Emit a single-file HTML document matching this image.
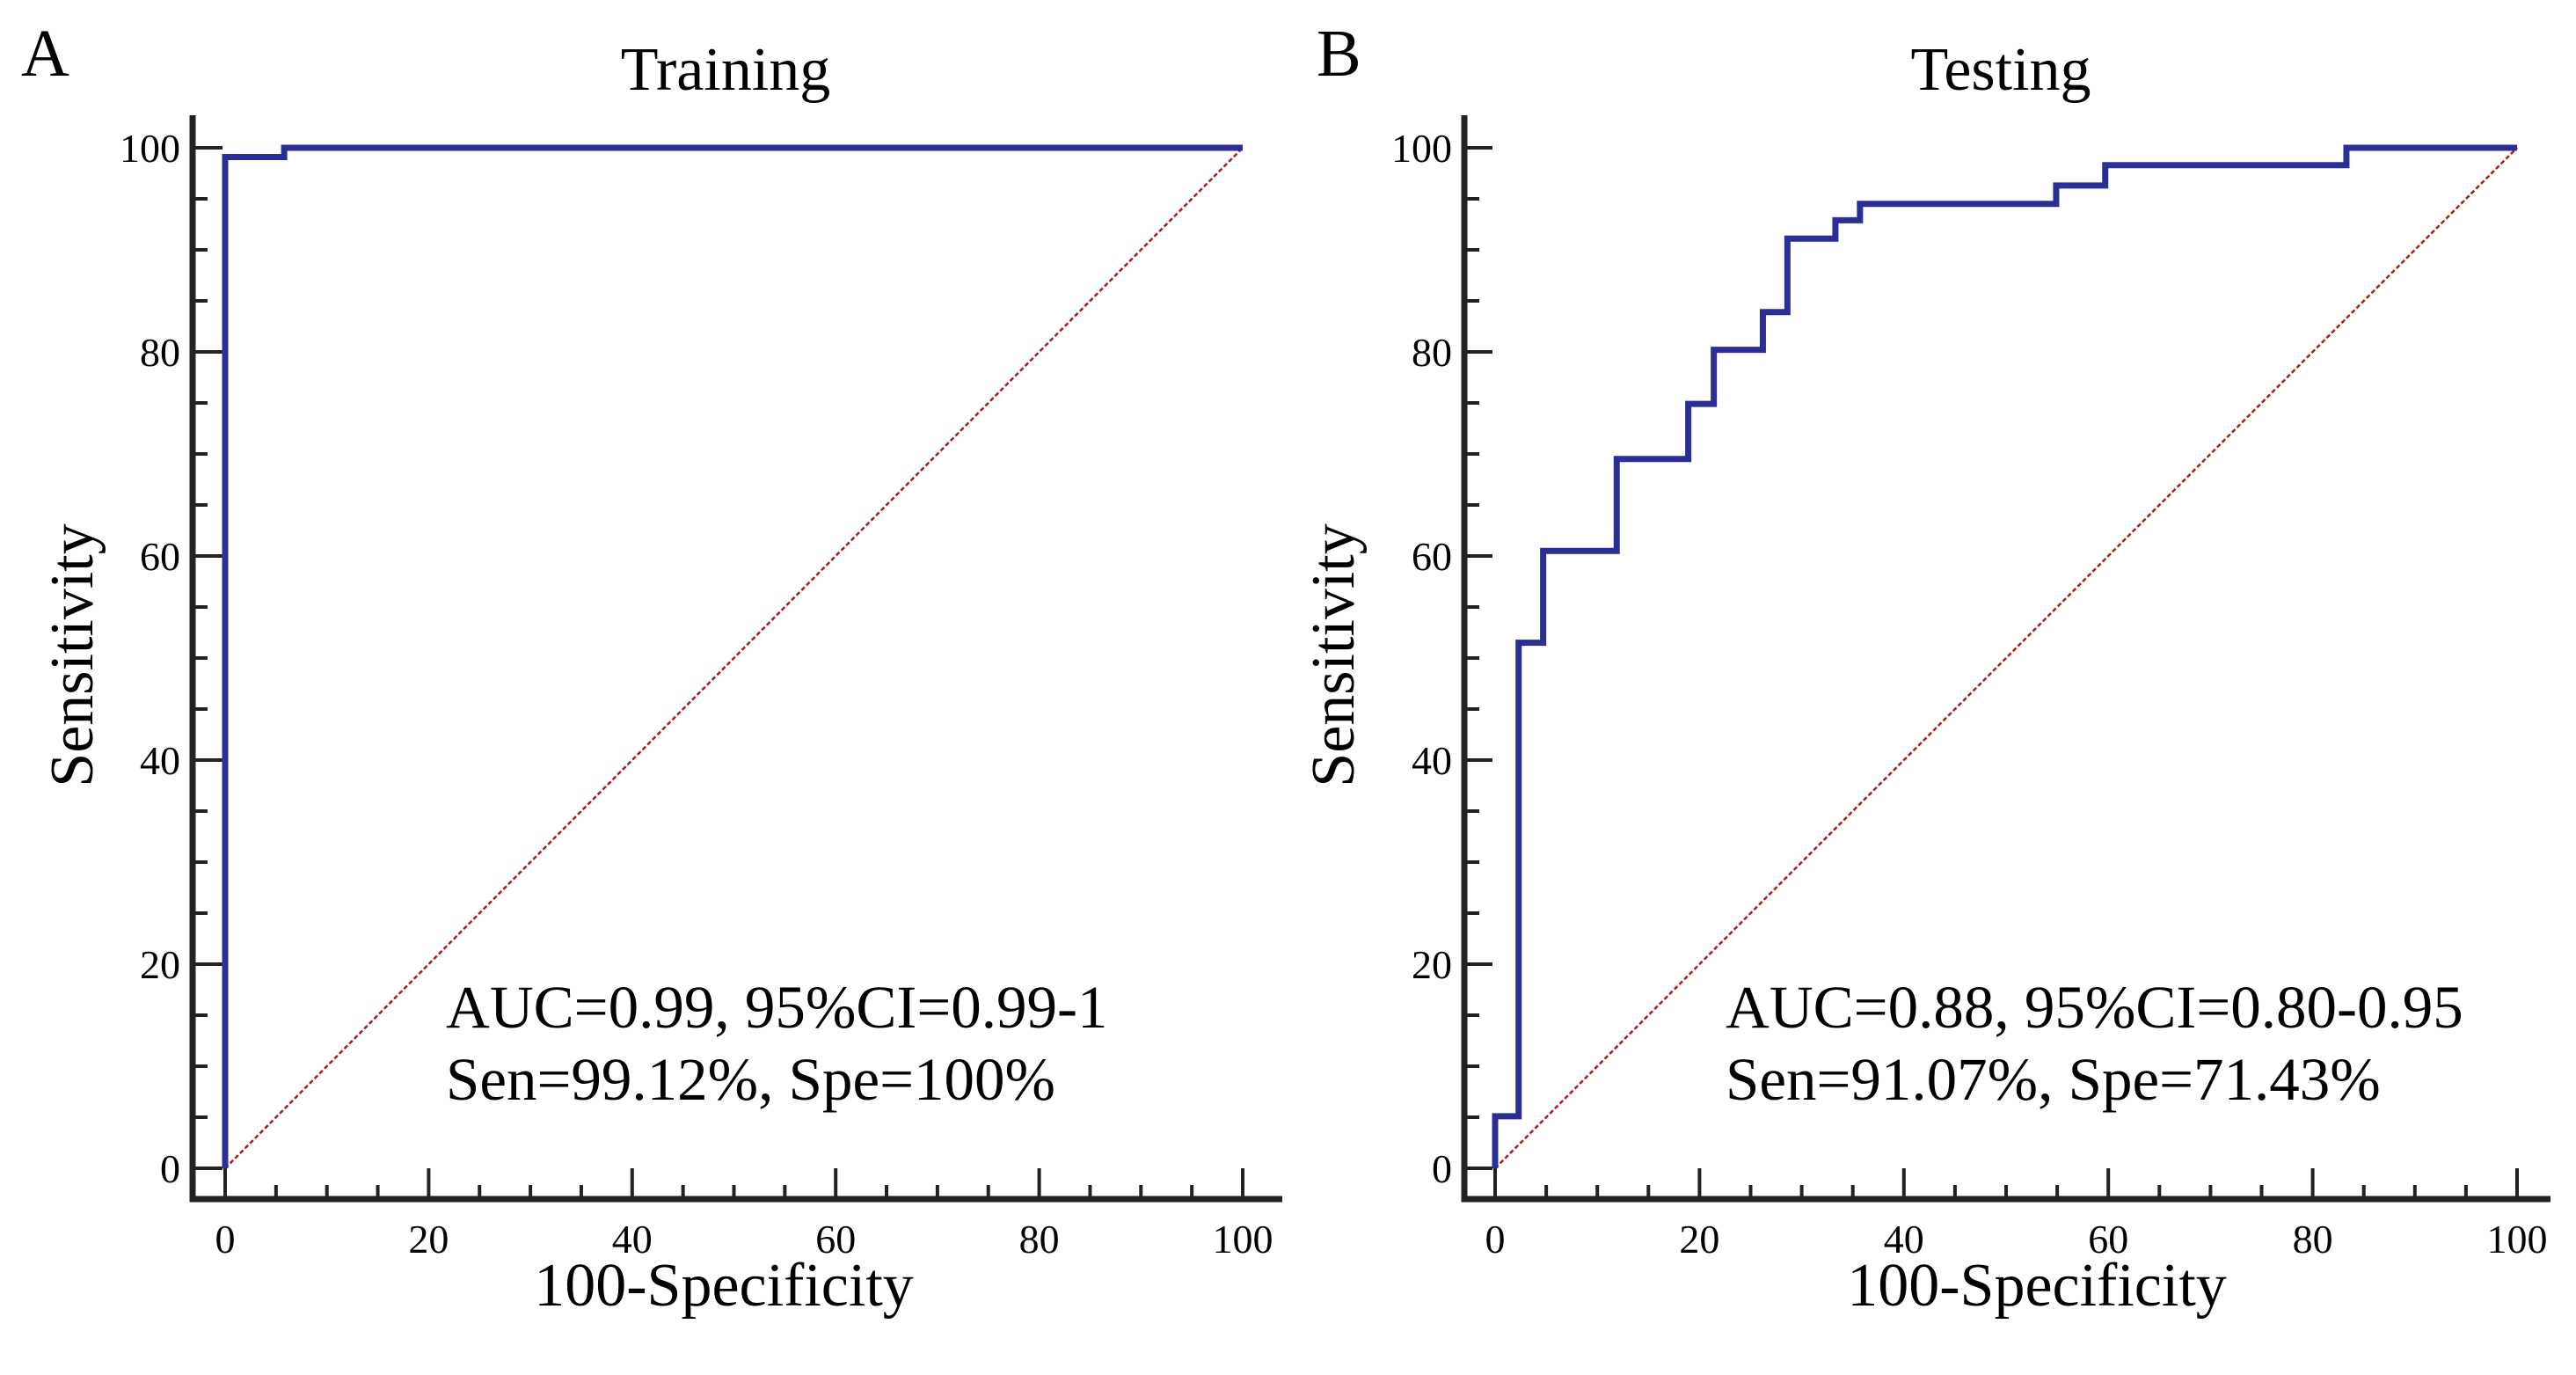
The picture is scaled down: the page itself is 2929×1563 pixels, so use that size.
<!DOCTYPE html>
<html><head><meta charset="utf-8"><style>
html,body{margin:0;padding:0;background:#fff}
svg{display:block}
text{font-family:"Liberation Serif",serif;fill:#000}
</style></head><body>
<svg id="chart" width="2929" height="1563" viewBox="0 0 2929 1563" xmlns="http://www.w3.org/2000/svg"></svg>
<script>
// Panel A (Training) data
const trainFPR = [0, 0, 5.8, 5.8, 100];
const trainSens = [0, 99.1, 99.1, 100, 100];
// Panel B (Testing) data
const testFPR = [0, 0, 2.3, 2.3, 4.7, 4.7, 11.9, 11.9, 18.9, 18.9, 21.4, 21.4, 26.2, 26.2, 28.6, 28.6, 33.3, 33.3, 35.7, 35.7, 54.9, 54.9, 59.7, 59.7, 83.3, 83.3, 100];
const testSens = [0, 5.1, 5.1, 51.5, 51.5, 60.5, 60.5, 69.5, 69.5, 74.9, 74.9, 80.2, 80.2, 83.9, 83.9, 91.1, 91.1, 92.9, 92.9, 94.5, 94.5, 96.3, 96.3, 98.3, 98.3, 100, 100];
const tickLabels = ["0","20","40","60","80","100"];
const tickValues = [0,20,40,60,80,100];
const titles = ["Training","Testing"];
const panelLetters = ["A","B"];
const statLine1 = ["AUC=0.99, 95%CI=0.99-1","AUC=0.88, 95%CI=0.80-0.95"];
const statLine2 = ["Sen=99.12%, Spe=100%","Sen=91.07%, Spe=71.43%"];

const svg = document.getElementById('chart');
const NS = 'http://www.w3.org/2000/svg';
function mk(tag, attrs, parent){const e=document.createElementNS(NS,tag);for(const k in attrs)e.setAttribute(k,attrs[k]);(parent||svg).appendChild(e);return e;}

const panels = [
 {x0:256, x100:1413, axisX:219, axisRight:1458, letterX:24, titleX:825, statX:507, labelX:823, sensX:81, fx:trainFPR, fy:trainSens},
 {x0:1700, x100:2862, axisX:1665, axisRight:2900, letterX:1497, titleX:2275, statX:1962, labelX:2316, sensX:1515, fx:testFPR, fy:testSens}
];
const y0 = 1328, y100 = 168, axisY = 1363, axisTop = 131;

panels.forEach((p, i) => {
  const g = mk('g', {});
  
  
  const sx = v => p.x0 + (p.x100 - p.x0) * v / 100;
  const sy = v => y0 + (y100 - y0) * v / 100;

  for (let v = 0; v <= 100; v += 5) {
    const major = v % 20 === 0;
    const xt = mk('line', {x1:sx(v), x2:sx(v), y1:axisY, y2: major ? y0 : 1347, stroke:'#222', 'stroke-width':4}, g);
    
    
    const yt = mk('line', {x1:p.axisX, x2: major ? p.x0 - 3 : p.axisX + 17, y1:sy(v), y2:sy(v), stroke:'#222', 'stroke-width':4}, g);
    
    
  }
  const ax = mk('path', {d:`M${p.axisX} ${axisTop} L${p.axisX} ${axisY} L${p.axisRight} ${axisY}`, fill:'none', stroke:'#222', 'stroke-width':7}, g);
  
  

  tickValues.forEach((v, k) => {
    const tx = mk('text', {x:sx(v), y:1424, 'font-size':46, 'text-anchor':'middle'}, g);
    tx.textContent = tickLabels[k];
    
    
    const ty = mk('text', {x:p.axisX - 14, y:sy(v) + 16, 'font-size':46, 'text-anchor':'end'}, g);
    ty.textContent = tickLabels[k];
    
    
  });

  const dg = mk('line', {x1:sx(0), y1:sy(0), x2:sx(100), y2:sy(100), stroke:'#b01818', 'stroke-width':2.5, 'stroke-dasharray':'5 3'}, g);
  
  

  const d = p.fx.map((v, k) => (k ? 'L' : 'M') + sx(v) + ' ' + sy(p.fy[k])).join(' ');
  const rc = mk('path', {d:d, fill:'none', stroke:'#2b2e95', 'stroke-width':7, 'stroke-linejoin':'miter'}, g);
  
  

  const lt = mk('text', {x:p.letterX, y:86, 'font-size':76}, g);
  lt.textContent = panelLetters[i];
  
  
  const tt = mk('text', {x:p.titleX, y:102, 'font-size':70, 'text-anchor':'middle'}, g);
  tt.textContent = titles[i];
  
  
  const s1 = mk('text', {x:p.statX, y:1168, 'font-size':69}, g);
  s1.textContent = statLine1[i];
  
  
  const s2 = mk('text', {x:p.statX, y:1250, 'font-size':69}, g);
  s2.textContent = statLine2[i];
  
  
  const xl = mk('text', {x:p.labelX, y:1484, 'font-size':70, 'text-anchor':'middle'}, g);
  xl.textContent = '100-Specificity';
  
  
  const yl = mk('text', {x:0, y:0, 'font-size':70, 'text-anchor':'middle', transform:`translate(${p.sensX + 24},745) rotate(-90)`}, g);
  yl.textContent = 'Sensitivity';
  
  
});
</script>
</body></html>
